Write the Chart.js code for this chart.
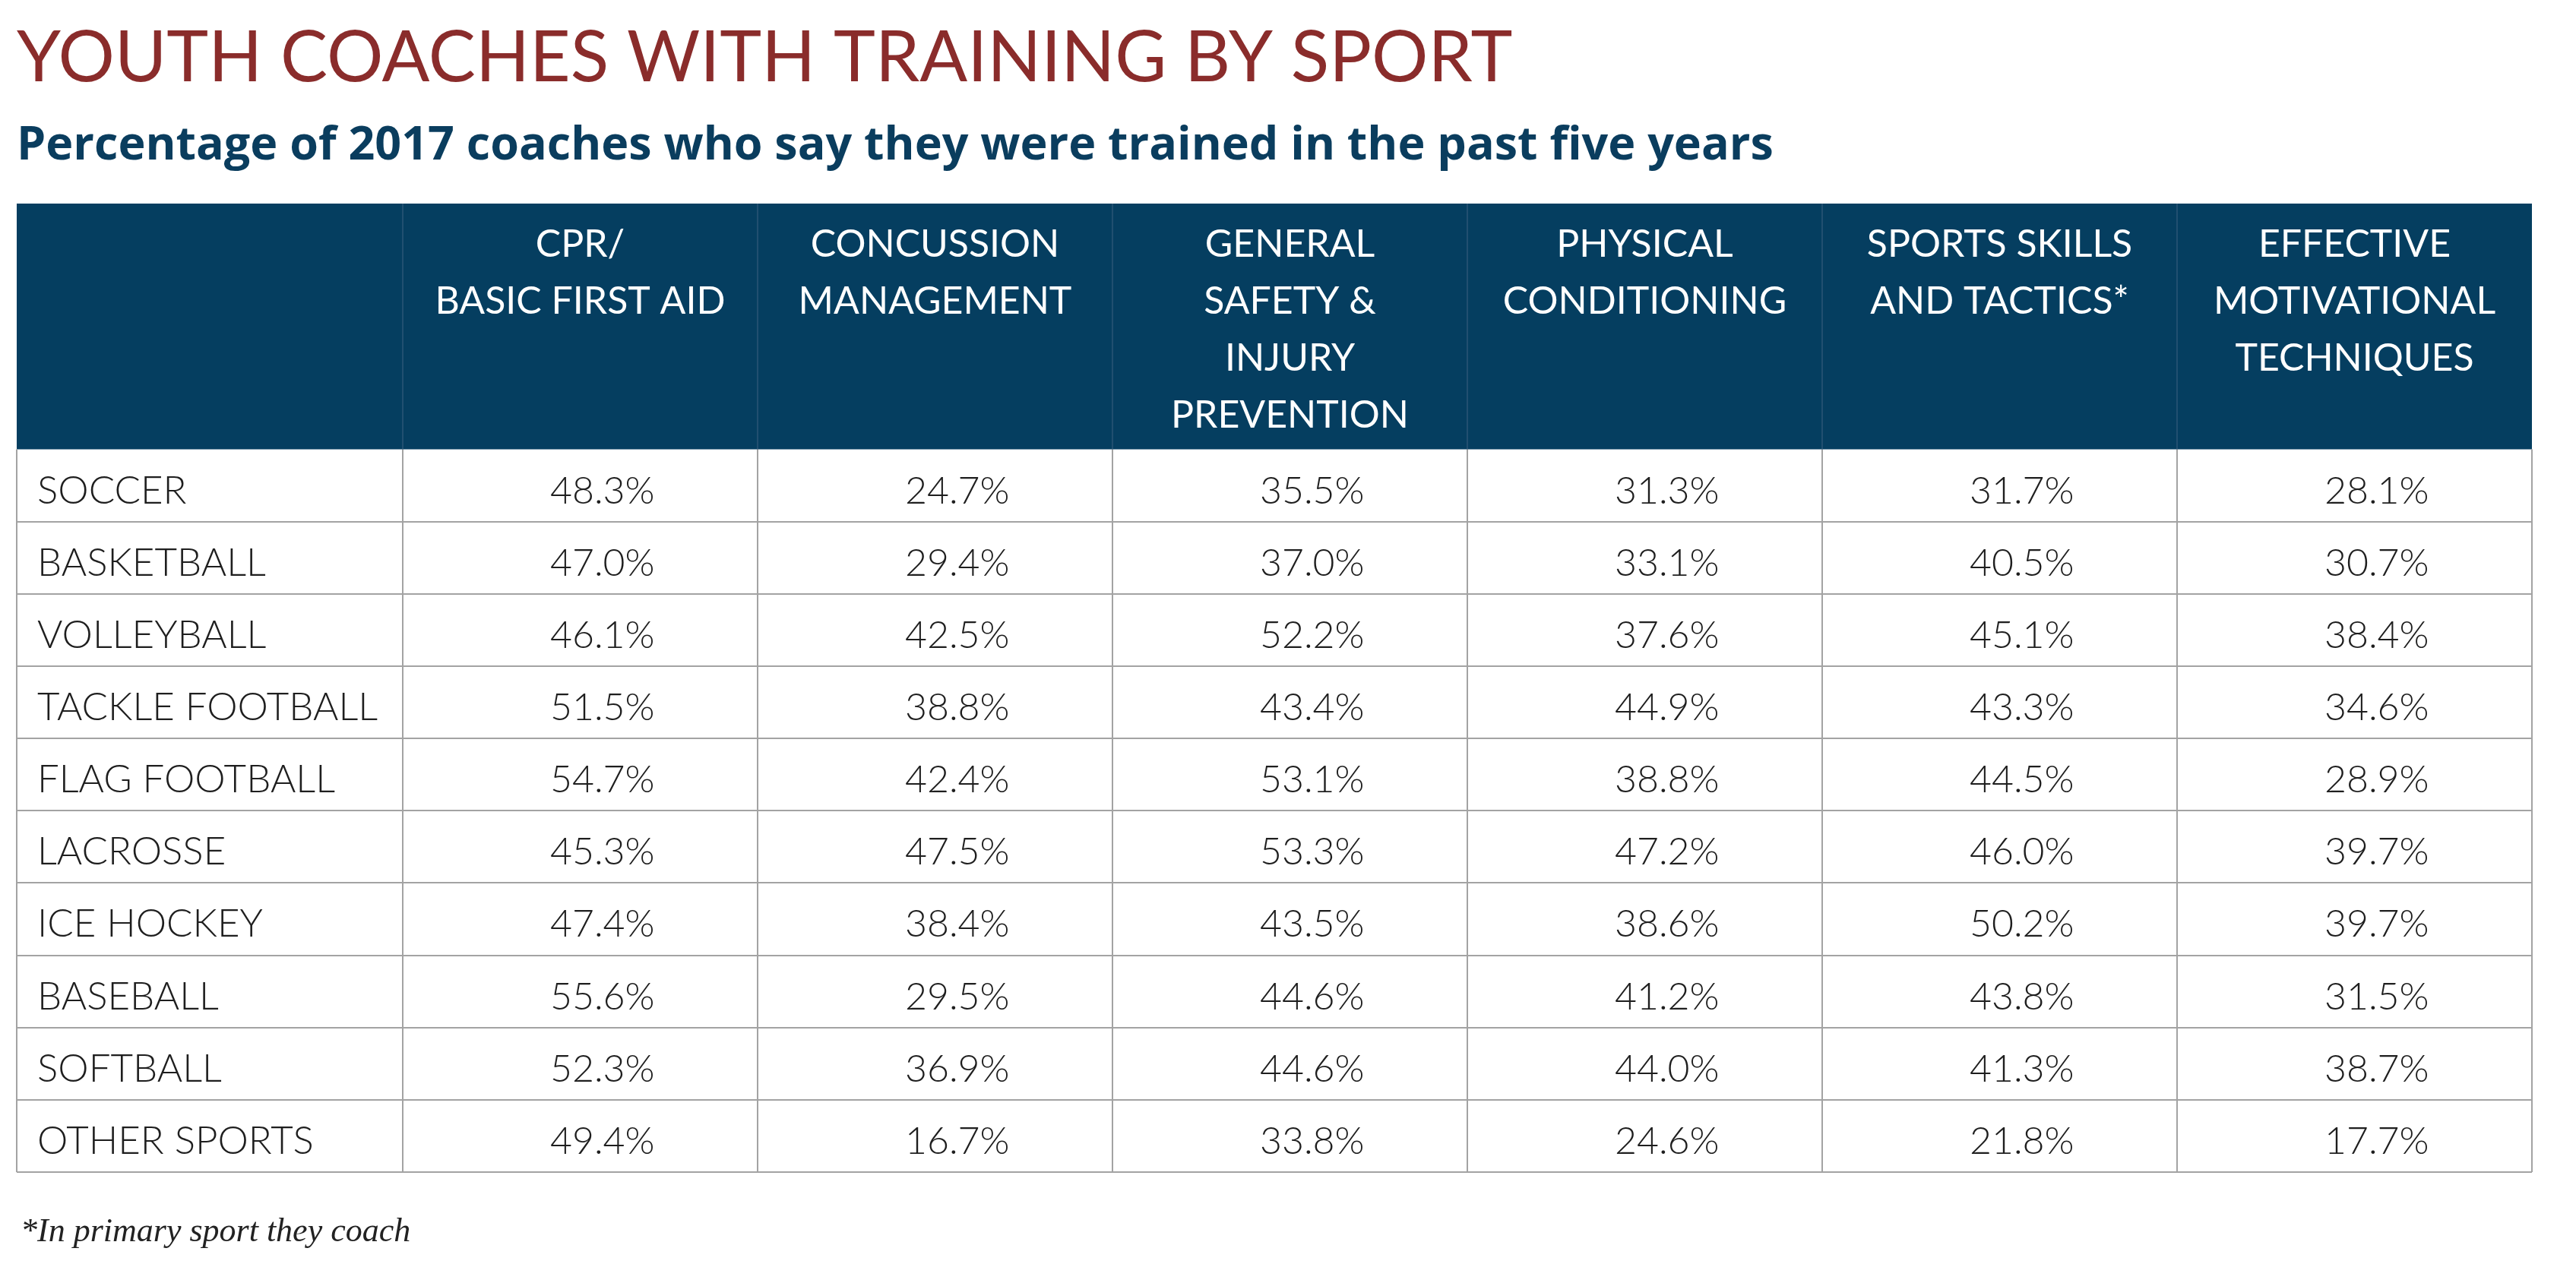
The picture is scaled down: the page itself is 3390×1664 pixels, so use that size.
<!DOCTYPE html>
<html>
<head>
<meta charset="utf-8">
<script src="https://cdn.jsdelivr.net/npm/chart.js@4.4.1/dist/chart.umd.min.js"></script>
<style>
  html, body { margin: 0; padding: 0; background: #fff; overflow: hidden; }
  #wrap { width: 3390px; height: 1664px; position: relative; }
</style>
</head>
<body>
<div id="wrap"><canvas id="chart"></canvas></div>
<script>
const sports = ['SOCCER', 'BASKETBALL', 'VOLLEYBALL', 'TACKLE FOOTBALL', 'FLAG FOOTBALL',
  'LACROSSE', 'ICE HOCKEY', 'BASEBALL', 'SOFTBALL', 'OTHER SPORTS'];
const trainings = [
  ['CPR/', 'BASIC FIRST AID'],
  ['CONCUSSION', 'MANAGEMENT'],
  ['GENERAL', 'SAFETY &', 'INJURY', 'PREVENTION'],
  ['PHYSICAL', 'CONDITIONING'],
  ['SPORTS SKILLS', 'AND TACTICS*'],
  ['EFFECTIVE', 'MOTIVATIONAL', 'TECHNIQUES']
];
const cpr          = [48.3, 47.0, 46.1, 51.5, 54.7, 45.3, 47.4, 55.6, 52.3, 49.4];
const concussion   = [24.7, 29.4, 42.5, 38.8, 42.4, 47.5, 38.4, 29.5, 36.9, 16.7];
const safety       = [35.5, 37.0, 52.2, 43.4, 53.1, 53.3, 43.5, 44.6, 44.6, 33.8];
const physical     = [31.3, 33.1, 37.6, 44.9, 38.8, 47.2, 38.6, 41.2, 44.0, 24.6];
const skills       = [31.7, 40.5, 45.1, 43.3, 44.5, 46.0, 50.2, 43.8, 41.3, 21.8];
const motivational = [28.1, 30.7, 38.4, 34.6, 28.9, 39.7, 39.7, 31.5, 38.7, 17.7];
const columns = [cpr, concussion, safety, physical, skills, motivational];

const FIRST_COL = 508 / 467;   // label column is a bit wider than the value columns
const HEADER_ROWS = 323 / 95;  // header band height, in row units
const FONT = 'Lato, "Open Sans", sans-serif';
const NAVY = '#053e60';
const GRID = '#a3a3a3';

// left edge of column c (0 = label column), in x units
const edge = c => c === 0 ? 0 : FIRST_COL + c - 1;

const tablePlugin = {
  id: 'table',
  beforeDatasetsDraw(chart) {
    const { ctx, scales: { x, y } } = chart;
    const left = x.getPixelForValue(0), right = x.getPixelForValue(edge(columns.length + 1));
    const top = y.getPixelForValue(-HEADER_ROWS), headBottom = y.getPixelForValue(0);
    const bottom = y.getPixelForValue(sports.length);
    ctx.save();

    ctx.fillStyle = NAVY;
    ctx.fillRect(left, top, right - left, headBottom - top);

    ctx.lineWidth = 2;
    ctx.strokeStyle = GRID;
    ctx.beginPath();
    for (let r = 1; r <= sports.length; r++) {
      const py = Math.round(y.getPixelForValue(r));
      ctx.moveTo(left, py); ctx.lineTo(right, py);
    }
    for (let c = 0; c <= columns.length + 1; c++) {
      const px = Math.round(x.getPixelForValue(edge(c)));
      ctx.moveTo(px, headBottom); ctx.lineTo(px, bottom);
    }
    ctx.stroke();

    // faint dividers inside the header band
    ctx.strokeStyle = '#2b5676';
    ctx.lineWidth = 1.5;
    ctx.beginPath();
    for (let c = 1; c <= columns.length; c++) {
      const px = Math.round(x.getPixelForValue(edge(c)));
      ctx.moveTo(px, top); ctx.lineTo(px, headBottom);
    }
    ctx.stroke();

    // header labels
    ctx.fillStyle = '#fff';
    ctx.font = '400 50px ' + FONT;
    ctx.textAlign = 'center';
    ctx.textBaseline = 'alphabetic';
    trainings.forEach((lines, i) => {
      const cx = (x.getPixelForValue(edge(i + 1)) + x.getPixelForValue(edge(i + 2))) / 2;
      lines.forEach((t, k) => ctx.fillText(t, cx, top + 70 + k * 75));
    });

    // row labels
    ctx.fillStyle = '#1e1e1e';
    ctx.font = '300 51px ' + FONT;
    ctx.textAlign = 'left';
    sports.forEach((s, r) => ctx.fillText(s, left + 27, y.getPixelForValue(r) + 71));

    // footnote
    ctx.fillStyle = '#222';
    ctx.font = 'italic 44px "Liberation Serif", serif';
    ctx.fillText('*In primary sport they coach', left + 5, bottom + 91);
    ctx.restore();
  },
  afterDatasetsDraw(chart) {
    const { ctx } = chart;
    ctx.save();
    ctx.fillStyle = '#1e1e1e';
    ctx.font = '300 50px ' + FONT;
    ctx.textAlign = 'right';
    ctx.textBaseline = 'alphabetic';
    chart.data.datasets.forEach((ds, i) => {
      chart.getDatasetMeta(i).data.forEach((pt, j) => {
        ctx.fillText(ds.data[j].v.toFixed(1) + '%', pt.x, pt.y + 23.5);
      });
    });
    ctx.restore();
  }
};

new Chart(document.getElementById('chart'), {
  type: 'scatter',
  data: {
    datasets: columns.map((vals, c) => ({
      label: trainings[c].join(' '),
      data: vals.map((v, r) => ({ x: edge(c + 2) - 0.29, y: r + 0.5, v })),
      pointRadius: 0
    }))
  },
  options: {
    responsive: true,
    maintainAspectRatio: false,
    animation: false,
    layout: { padding: { left: 22, right: 58, top: 0, bottom: 121 } },
    plugins: {
      legend: { display: false },
      tooltip: { enabled: false },
      title: {
        display: true, align: 'start', text: 'YOUTH COACHES WITH TRAINING BY SPORT',
        color: '#8a2c2b', font: { family: FONT, size: 93, weight: 'normal', lineHeight: 1 },
        padding: { top: 30, bottom: 24 }
      },
      subtitle: {
        display: true, align: 'start',
        text: 'Percentage of 2017 coaches who say they were trained in the past five years',
        color: '#0a3d5e', font: { family: '"Open Sans", Lato, sans-serif', size: 61, weight: 'bold', lineHeight: 1 },
        padding: { top: 15, bottom: 45 }
      }
    },
    scales: {
      x: { type: 'linear', min: 0, max: edge(columns.length + 1), display: false },
      y: { type: 'linear', min: -HEADER_ROWS, max: sports.length, reverse: true, display: false }
    }
  },
  plugins: [tablePlugin]
});
</script>
</body>
</html>
